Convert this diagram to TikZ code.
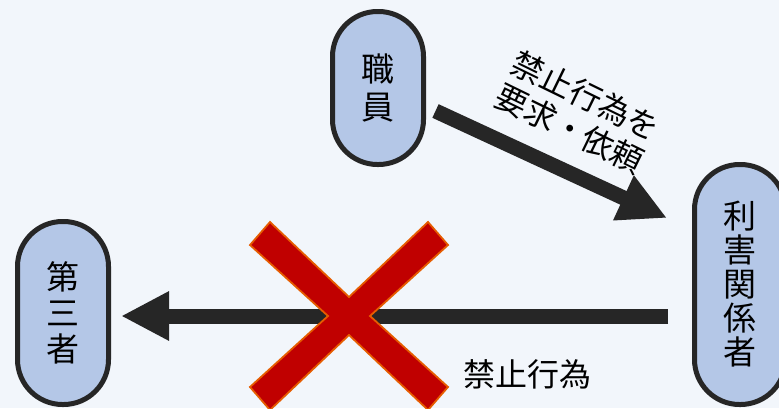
\documentclass[tikz,border=0pt]{standalone}
\usepackage{fontspec}
\newfontfamily\jp{Noto Sans CJK JP}
\usetikzlibrary{arrows.meta}
\definecolor{bg}{HTML}{F2F6FB}
\definecolor{dark}{HTML}{262626}
\definecolor{nodefill}{HTML}{B4C7E7}
\definecolor{xred}{HTML}{C00000}
\definecolor{xedge}{HTML}{E65C00}
\begin{document}
\begin{tikzpicture}[x=1pt,y=-1pt,
  party/.style={draw=dark, line width=5pt, fill=nodefill, rounded corners=45pt,
    minimum width=91pt, inner sep=0pt, align=center},
  bigarrow/.style={draw=dark, line width=15pt, -{Triangle[length=48pt,width=46pt]}},
  lbl/.style={align=center, inner sep=0pt, text=black},
  cross/.style={fill=xred, draw=xedge, line width=1.8pt, line join=miter}]
\fill[bg] (0,0) rectangle (779,408);
\useasboundingbox (0,0) rectangle (779,408);
% parties
\node[party, minimum height=153pt, font=\jp\fontsize{33}{38}\selectfont] (shokuin) at (378,88) {職\\員};
\node[party, minimum height=240pt, font=\jp\fontsize{33}{34}\selectfont] (rigai) at (740,284.5) {利\\害\\関\\係\\者};
\node[party, minimum height=183pt, font=\jp\fontsize{33}{36}\selectfont] (daisan) at (63,313) {第\\三\\者};
% connector end points
\coordinate (a1s) at (435.5,111);
\coordinate (a1e) at (667,218);
\coordinate (h1s) at (668,316);
\coordinate (h1e) at (121,316);
\draw[bigarrow] (a1s) -- (a1e);
\draw[bigarrow] (h1s) -- (h1e);
% red cross
\coordinate (xc) at (349,316);
\draw[cross, shift={(xc)}]
  (-79,-94) -- (0,-19) -- (79,-94) -- (99,-71) -- (21,0) -- (99,71) -- (79,94)
  -- (0,19) -- (-79,94) -- (-99,71) -- (-21,0) -- (-99,-71) -- cycle;
% labels
\node[lbl, rotate=-26, font=\jp\fontsize{32}{37}\selectfont] (req) at (578,112) {禁止行為を\\要求・依頼};
\node[lbl, font=\jp\fontsize{32}{37}\selectfont] (forbid) at (527,374) {禁止行為};
\end{tikzpicture}
\end{document}
